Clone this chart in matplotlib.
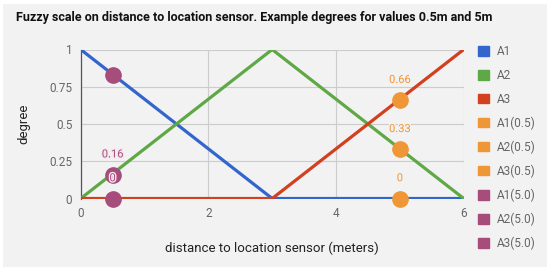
import numpy as np
import matplotlib.pyplot as plt
import matplotlib.patheffects as pe
from matplotlib.patches import Rectangle, Patch

plt.rcParams['font.family'] = ['Roboto', 'DejaVu Sans']

# membership functions
dist = [0, 3, 6]
a1 = [1, 0, 0]
a2 = [0, 1, 0]
a3 = [0, 0, 1]

# example points
x_orange = 5.0
orange_names = ['A1(0.5)', 'A2(0.5)', 'A3(0.5)']
orange_vals = [0, 0.33, 0.66]
x_purple = 0.5
purple_names = ['A1(5.0)', 'A2(5.0)', 'A3(5.0)']
purple_vals = [0.83, 0.16, 0]
purple_labels = ['', '0.16', '0']

blue, green, red = '#3366cc', '#5fa846', '#d2401f'
orange, purple = '#ef9637', '#a64d7c'
bg = '#f2f2f2'

fig = plt.figure(figsize=(5.5, 2.7), dpi=100)
fig.patch.set_facecolor('white')
fig.patches.append(Rectangle((0.006, 0.01), 0.988, 0.975, transform=fig.transFigure,
                             facecolor=bg, edgecolor='none', zorder=-10))

ax = fig.add_axes([80.7 / 550, 1 - 198.5 / 270, 383 / 550, 149 / 270])
ax.set_facecolor(bg)

ax.plot(dist, a1, color=blue, lw=2.3, zorder=3)
ax.plot(dist, a2, color=green, lw=2.3, zorder=3)
ax.plot(dist, a3, color=red, lw=2.3, zorder=3)

halo = [pe.withStroke(linewidth=2, foreground=bg)]
for v in orange_vals:
    ax.plot([x_orange], [v], 'o', color=orange, ms=11, zorder=4, clip_on=False)
    ax.annotate(f'{v:g}', (x_orange, v), xytext=(0, 11), textcoords='offset points',
                ha='center', va='bottom', color=orange, fontsize=8, path_effects=halo)
for v, lab in zip(purple_vals, purple_labels):
    ax.plot([x_purple], [v], 'o', color=purple, ms=11, zorder=4, clip_on=False)
    if lab:
        ax.annotate(lab, (x_purple, v), xytext=(0, 11), textcoords='offset points',
                    ha='center', va='bottom', color=purple, fontsize=8, zorder=5,
                    path_effects=[pe.withStroke(linewidth=2, foreground='#f4e6ee')])

ax.set_xlim(0, 6)
ax.set_ylim(0, 1)
ax.set_xticks([0, 2, 4, 6])
ax.set_yticks([0, 0.25, 0.5, 0.75, 1])
ax.set_yticklabels(['0', '0.25', '0.5', '0.75', '1'])
ax.grid(True, color='#cccccc', lw=0.8)
ax.tick_params(length=0, colors='#666666', labelsize=8.5, pad=6)
for s in ['top', 'right', 'bottom']:
    ax.spines[s].set_visible(False)
ax.spines['left'].set_color('#555555')
ax.spines['left'].set_linewidth(0.9)

ax.set_xlabel('distance to location sensor (meters)', fontsize=9.5, color='#222222', labelpad=16)
ax.set_ylabel('degree', fontsize=9.5, color='#222222', labelpad=14)

fig.text(16 / 550, 1 - 18 / 270, 'Fuzzy scale on distance to location sensor. Example degrees for values 0.5m and 5m',
         fontsize=9, fontweight='bold', va='center', ha='left', color='#111111')

handles = [Patch(color=c) for c in [blue, green, red, orange, orange, orange, purple, purple, purple]]
labels = ['A1', 'A2', 'A3'] + orange_names + purple_names
leg = ax.legend(handles, labels, loc='upper left', bbox_to_anchor=(1.025, 1.06), frameon=False,
                handlelength=0.9, handleheight=0.9, labelspacing=0.9, fontsize=8.5,
                handletextpad=0.7, borderaxespad=0)
for t in leg.get_texts():
    t.set_color('#666666')

fig.savefig('out.png', dpi=100, facecolor=fig.get_facecolor())
